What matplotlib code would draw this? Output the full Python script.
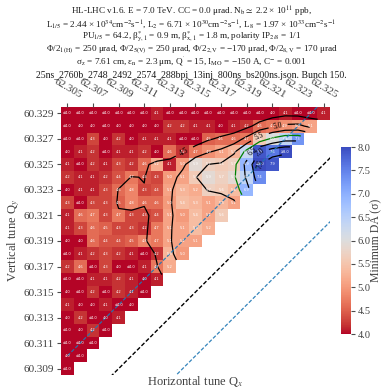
import numpy as np
import matplotlib.pyplot as plt

plt.rcParams['font.family'] = ['Liberation Serif', 'DejaVu Serif']
plt.rcParams['mathtext.fontset'] = 'stix'

# tune grid
qx = [62.305, 62.306, 62.307, 62.308, 62.309, 62.310, 62.311, 62.312, 62.313, 62.314, 62.315,
      62.316, 62.317, 62.318, 62.319, 62.320, 62.321, 62.322, 62.323, 62.324, 62.325]
qy = [60.309, 60.310, 60.311, 60.312, 60.313, 60.314, 60.315, 60.316, 60.317, 60.318, 60.319,
      60.320, 60.321, 60.322, 60.323, 60.324, 60.325, 60.326, 60.327, 60.328, 60.329]

# minimum DA per row (qy), starting at qx = 62.305; values < 4 shown as "<=4.0"
da_rows = [
    [3.9],
    [4.0, 3.9],
    [3.9, 3.9, 3.9],
    [3.9, 4.0, 4.2, 3.9],
    [4.0, 4.2, 3.9, 4.0, 4.1],
    [4.1, 4.0, 4.0, 4.1, 3.9, 4.0],
    [4.0, 3.9, 4.2, 3.9, 4.2, 4.1, 3.9],
    [3.9, 3.9, 4.1, 4.1, 4.2, 4.1, 4.0, 4.1],
    [4.2, 4.6, 3.9, 4.3, 4.0, 3.9, 4.1, 4.7, 5.2],
    [3.9, 4.1, 4.2, 4.3, 4.2, 4.1, 3.9, 4.2, 5.3, 5.0],
    [4.0, 4.0, 4.6, 4.4, 4.4, 4.5, 4.8, 4.7, 5.1, 5.1, 5.1],
    [4.1, 4.3, 4.6, 4.5, 4.3, 4.3, 4.2, 4.7, 5.1, 5.1, 5.4, 5.2],
    [4.1, 4.6, 4.7, 4.3, 4.7, 4.3, 4.3, 4.4, 5.1, 5.0, 5.4, 5.1, 5.6],
    [4.3, 3.9, 4.3, 4.3, 4.5, 4.8, 4.6, 4.6, 5.0, 5.4, 5.3, 5.1, 5.3, 5.1],
    [4.0, 4.1, 4.1, 4.3, 4.6, 4.8, 4.3, 4.4, 5.1, 5.3, 5.2, 5.7, 5.6, 5.4, 6.9],
    [4.2, 4.1, 4.1, 4.2, 4.4, 4.7, 4.4, 4.3, 5.0, 5.1, 5.6, 5.9, 5.7, 5.9, 6.4, 7.4],
    [4.1, 3.9, 4.2, 4.1, 4.3, 4.2, 4.6, 5.2, 4.1, 5.0, 5.9, 5.7, 5.6, 5.7, 6.9, 8.2, 7.9],
    [4.0, 4.1, 4.2, 3.9, 4.1, 4.1, 4.2, 4.0, 4.6, 4.2, 4.7, 4.9, 5.1, 5.3, 6.3, 7.9, 7.6, 8.2],
    [3.9, 3.9, 4.3, 4.0, 4.2, 4.0, 4.1, 4.1, 4.1, 3.9, 3.9, 4.5, 4.6, 4.6, 4.7, 5.6, 6.0, 6.4, 7.3],
    [3.9, 4.0, 4.0, 3.9, 4.0, 4.0, 4.0, 4.0, 4.2, 4.2, 4.1, 4.1, 4.0, 4.1, 4.2, 4.6, 4.7, 4.9, 5.0, 5.1],
    [3.9, 3.9, 3.9, 3.9, 3.9, 3.9, 3.9, 4.1, 3.9, 3.9, 3.9, 3.9, 3.9, 3.9, 3.9, 3.9, 4.0, 4.1, 3.9, 3.9, 4.1],
]

title_lines = [
    r"HL-LHC v1.6. E = 7.0 TeV. CC = 0.0 μrad. N$_{\mathrm{b}}\simeq$ 2.2 × 10$^{11}$ ppb,",
    r"L$_{\mathrm{1/5}}$ = 2.44 × 10$^{34}$cm$^{-2}$s$^{-1}$, L$_{\mathrm{2}}$ = 6.71 × 10$^{30}$cm$^{-2}$s$^{-1}$, "
    r"L$_{\mathrm{8}}$ = 1.97 × 10$^{33}$cm$^{-2}$s$^{-1}$",
    r"PU$_{\mathrm{1/5}}$ = 64.2, β$^{*}_{\mathrm{y,1}}$ = 0.9 m, β$^{*}_{\mathrm{x,1}}$ = 1.8 m, polarity IP$_{\mathrm{2/8}}$ = 1/1",
    r"Φ/2$_{\mathrm{1(H)}}$ = 250 μrad, Φ/2$_{\mathrm{5(V)}}$ = 250 μrad, Φ/2$_{\mathrm{2,V}}$ = −170 μrad, Φ/2$_{\mathrm{8,V}}$ = 170 μrad",
    r"σ$_{\mathrm{z}}$ = 7.61 cm, ε$_{\mathrm{n}}$ = 2.3 μm, Q$^{'}$ = 15, I$_{\mathrm{MO}}$ = −150 A, C$^{-}$ = 0.001",
]
subtitle = "25ns_2760b_2748_2492_2574_288bpi_13inj_800ns_bs200ns.json. Bunch 150."

qx = np.array(qx)
qy = np.array(qy)
Z = np.full((len(qy), len(qx)), np.nan)
for i, row in enumerate(da_rows):
    Z[i, :len(row)] = row
Zm = np.ma.masked_invalid(Z)


def smooth(a, sigma=0.8, r=2):
    # gaussian smoothing that ignores empty cells
    valid = ~np.isnan(a)
    af = np.where(valid, a, 0.0)
    pa = np.pad(af, r)
    pv = np.pad(valid.astype(float), r)
    num = np.zeros_like(af)
    den = np.zeros_like(af)
    n, m = a.shape
    for di in range(-r, r + 1):
        for dj in range(-r, r + 1):
            w = np.exp(-(di ** 2 + dj ** 2) / (2 * sigma ** 2))
            num += w * pa[r + di:r + di + n, r + dj:r + dj + m]
            den += w * pv[r + di:r + di + n, r + dj:r + dj + m]
    out = num / np.where(den > 0, den, 1)
    out[~valid] = np.nan
    return np.ma.masked_invalid(out)


ex = np.append(qx - 0.0005, qx[-1] + 0.0005)
ey = np.append(qy - 0.0005, qy[-1] + 0.0005)

fig = plt.figure(figsize=(3.83, 3.89), dpi=100)
ax = fig.add_axes([61 / 383, 1 - 375 / 389, 269 / 383, 268 / 389])
mesh = ax.pcolormesh(ex, ey, Zm, cmap='coolwarm_r', vmin=4, vmax=8)

for i in range(len(qy)):
    for j in range(len(qx)):
        v = Z[i, j]
        if np.isnan(v):
            continue
        if v < 4.0:
            s = '≤4.0'
        elif v > 8.0:
            s = '≥8.0'
        else:
            s = f'{v:.1f}'
        ax.text(qx[j], qy[i], s, ha='center', va='center', fontsize=2.6, color='white',
                family=['DejaVu Sans'])

X, Y = np.meshgrid(qx, qy)
Zs = smooth(Z)
cs = ax.contour(X, Y, Zs, levels=[4.5, 5.0, 5.5, 6.5, 7.0, 7.5], colors='black', linewidths=0.9)
ax.clabel(cs, fmt='%.1f', fontsize=5.5, inline=True)
cs2 = ax.contour(X, Y, Zs, levels=[6.0], colors='green', linewidths=0.9)

xs = np.array([62.305, 62.33])
ax.plot(xs, xs - 2, color='black', ls=(0, (3, 1.5)), lw=1)
ax.plot(xs, xs - 2 + 0.005, color='tab:blue', ls=(0, (3, 1.5)), lw=0.9, alpha=0.9)
ax.plot(xs, xs - 2 - 0.005, color='tab:blue', ls=(0, (3, 1.5)), lw=0.9, alpha=0.9)

ax.set_xlim(ex[0], ex[-1])
ax.set_ylim(ey[0], ey[-1])
for sp in ax.spines.values():
    sp.set_visible(False)

ax.xaxis.tick_top()
ax.set_xticks(qx[::2])
ax.set_xticklabels([f'{v:.3f}' for v in qx[::2]], rotation=-30, ha='center')
ax.set_yticks(qy[::2])
ax.set_yticklabels([f'{v:.3f}' for v in qy[::2]])
ax.tick_params(length=3, width=0.8, color='0.3', labelsize=8, labelcolor='0.25', pad=2)
ax.xaxis.set_label_position('bottom')
ax.set_xlabel('Horizontal tune Q$_x$', fontsize=9, color='0.25', labelpad=-0.5)
ax.set_ylabel('Vertical tune Q$_y$', fontsize=9, color='0.25', labelpad=1)

cax = fig.add_axes([341 / 383, 1 - 334 / 389, 10 / 383, 187 / 389])
cb = fig.colorbar(mesh, cax=cax, ticks=[4.0, 4.5, 5.0, 5.5, 6.0, 6.5, 7.0, 7.5, 8.0], format='%.1f')
cb.outline.set_visible(False)
cb.ax.tick_params(length=3, width=0.8, color='0.3', labelsize=7.5, labelcolor='0.25', pad=1.5)
cb.set_label('Minimum DA (σ)', fontsize=8.5, color='0.25', labelpad=0)

line_y = [12, 24.5, 37, 49.5, 62]
for t, yy in zip(title_lines, line_y):
    fig.text(0.5, 1 - yy / 389, t, ha='center', va='center', fontsize=6.6, color='0.1')
fig.text(0.5, 1 - 75 / 389, subtitle, ha='center', va='center', fontsize=7, color='0.1')

fig.savefig('out.png', dpi=100)
